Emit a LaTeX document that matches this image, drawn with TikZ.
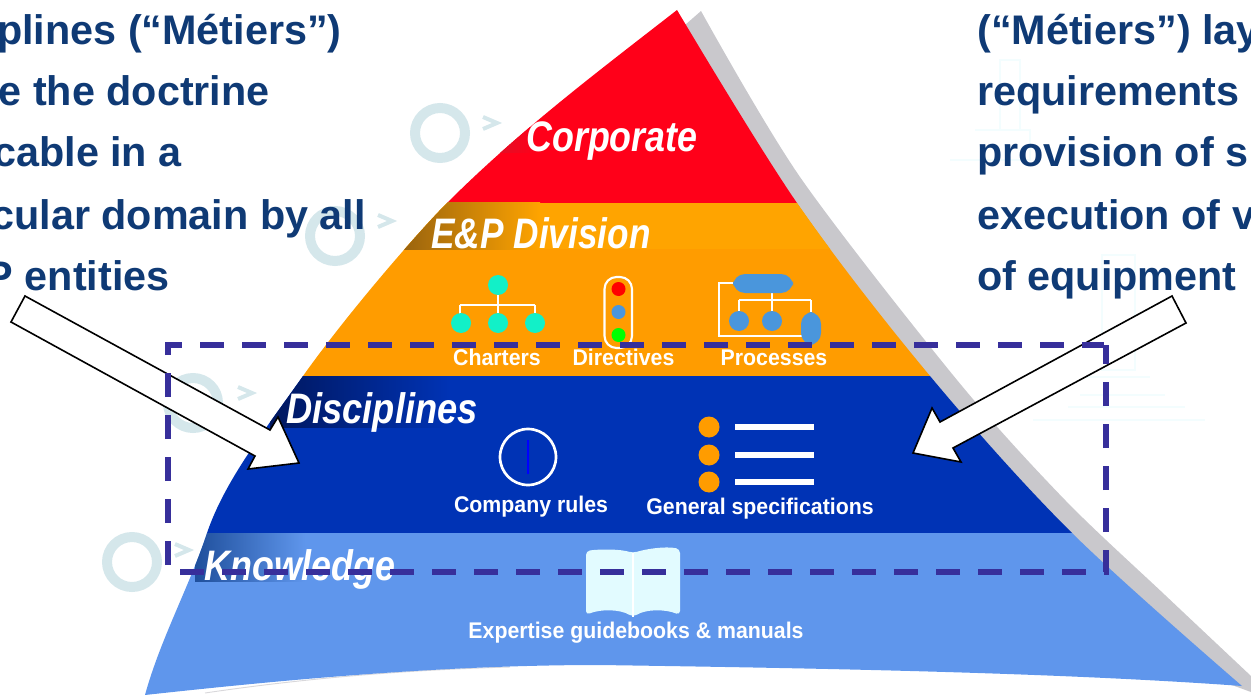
\documentclass[tikz,border=0pt]{standalone}
\usepackage{fontspec}
\setmainfont{Liberation Sans}
\usetikzlibrary{shadings}
\definecolor{txtblue}{HTML}{0F3A75}
\definecolor{cRed}{HTML}{FF0019}
\definecolor{cDarkRed}{HTML}{DC1228}
\definecolor{cOrange}{HTML}{FF9C00}
\definecolor{cOrangeB}{HTML}{FFA400}
\definecolor{cBrown}{HTML}{94600F}
\definecolor{cBlue}{HTML}{0033B5}
\definecolor{cNavy}{HTML}{00175E}
\definecolor{cLight}{HTML}{5F96EC}
\definecolor{cKnow}{HTML}{1F4F9C}
\definecolor{cGray}{HTML}{C9C8CC}
\definecolor{cRing}{HTML}{D5E7EB}
\definecolor{cFaint}{HTML}{F3FDFE}
\definecolor{cDash}{HTML}{372F9B}
\definecolor{cTurq}{HTML}{12F0C8}
\definecolor{cIcon}{HTML}{4A96DC}
\definecolor{cBook}{HTML}{E2FBFF}
\tikzset{
  side/.style={font=\bfseries\fontsize{31}{31}\selectfont,text=txtblue,inner sep=0pt},
  layer/.style={font=\bfseries\itshape\fontsize{32}{32}\selectfont,text=white,inner sep=0pt,anchor=base},
  caption/.style={font=\bfseries\fontsize{17}{17}\selectfont,text=white,inner sep=0pt,anchor=base,xscale=.94},
  ring/.style={draw=cRing,line width=7.5pt,fill=none},
  wm/.style={draw=cRing,line width=3pt},
  faint/.style={draw=cFaint,line width=1.2pt},
  wire/.style={draw=white,line width=1.5pt},
  blockarrow/.style={draw=black,fill=white,line width=1.2pt,line join=miter},
  frame/.style={draw=cDash,line width=3.8pt,dash pattern=on 18pt off 13.5pt},
  bar/.style={draw=white,line width=3.8pt}
}
\newcommand{\pyr}{(677,10) .. controls (600,70) and (520,130) .. (447,203)
  .. controls (420,230) and (350,310) .. (303,376)
  .. controls (265,430) and (225,480) .. (207,533)
  .. controls (190,585) and (160,640) .. (145,695)
  .. controls (300,678) and (450,665) .. (600,665)
  .. controls (800,668) and (1050,672) .. (1242,686)
  -- plot[smooth,tension=.55] coordinates {(1242,686) (1072,533) (930,376) (797,203) (677,10)} -- cycle}
\begin{document}
\begin{tikzpicture}[x=.75pt,y=-.75pt]
\useasboundingbox (0,0) rectangle (1251,695);
\begin{scope}
\clip (0,0) rectangle (1251,695);
% faint background drawing on the right
\draw[faint] (1033,420) -- (1205,420) (1068,407) -- (1185,407) (1080,395) -- (1165,395)
  (1080,377) -- (1150,377) (1102,255) rectangle (1135,370)
  (1000,60) -- (1020,60) -- (1020,130) -- (1000,130) -- cycle (975,130) -- (1030,130) -- (1030,160) -- (950,160);
% watermarks
\draw[ring] (440,133) circle (25);
\draw[wm] (483,117) -- (497,123) -- (483,129);
\draw[ring] (335,236) circle (25);
\draw[wm] (378,215) -- (392,221) -- (378,227);
\draw[ring] (193,403) circle (25);
\draw[wm] (238,387) -- (252,393) -- (238,399);
\draw[ring] (132,562) circle (25);
\draw[wm] (175,544) -- (189,550) -- (175,556);
% side texts
\node[side,anchor=base east] (t1) at (342,45) {plines (“Métiers”)};
\node[side,anchor=base east] (t2) at (270,106) {e the doctrine};
\node[side,anchor=base east] (t3) at (182,167) {cable in a};
\node[side,anchor=base east] (t4) at (366,229) {cular domain by all};
\node[side,anchor=base east] (t5) at (170,290) {P entities};
\node[side,anchor=base west] (r1) at (977,45) {(“Métiers”) lay};
\node[side,anchor=base west] (r2) at (977,106) {requirements};
\node[side,anchor=base west] (r3) at (977,167) {provision of s};
\node[side,anchor=base west] (r4) at (977,229) {execution of v};
\node[side,anchor=base west] (r5) at (977,290) {of equipment};
% shadow
\fill[cGray] plot[smooth,tension=.5] coordinates {(701,11) (800,177) (957,380) (1065,500) (1165,595) (1251,676)}
  -- (1251,692) -- (1240,688) -- (1000,600) -- (677,100) -- (685,25) -- cycle;
\draw[cGray!70,line width=.7pt] (205,693) .. controls (300,679) and (400,670) .. (510,667);
% bands
\begin{scope}
\clip \pyr;
\fill[cRed] (100,0) rectangle (1251,203);
\fill[cOrange] (100,203) rectangle (1251,376);
\fill[cOrangeB] (100,203) rectangle (1251,249);
\fill[cBlue] (100,376) rectangle (1251,533);
\fill[cLight] (100,533) rectangle (1251,700);
\shade[left color=cBrown,right color=cOrangeB] (395,203) rectangle (540,249);
\shade[left color=cNavy,right color=cBlue] (270,376) rectangle (450,427);
\shade[left color=cKnow,right color=cLight] (195,533) rectangle (305,581);
\shade[left color=cDarkRed,right color=cRed] (490,128) rectangle (535,153);
\end{scope}
% layer titles
\node[layer,xscale=.84] (corp) at (612,152) {Corporate};
\node[layer,xscale=.825] (div) at (541,248) {E\&P Division};
\node[layer,xscale=.85] (disc) at (382,423) {Disciplines};
\node[layer,xscale=.84] (know) at (300,580) {Knowledge};
% charters icon
\draw[wire] (498,285) -- (498,323) (460,305) -- (535,305) (460,305) -- (460,323) (535,305) -- (535,323);
\foreach \p in {(498,285),(461,323),(498,323),(535,323)} \fill[cTurq] \p circle (10);
\node[caption] (c1) at (497,365) {Charters};
% directives icon
\draw[white,line width=1.6pt,fill=cOrange,rounded corners=9pt] (604.5,277) rectangle (632,348);
\fill[red] (618.5,289) circle (7);
\fill[cIcon] (618.5,312) circle (7);
\fill[green] (618.5,335) circle (7);
\node[caption] (c2) at (623.5,365) {Directives};
% processes icon
\draw[wire] (733,283) -- (719,283) -- (719,336) -- (803,336)
  (772,293) -- (772,312) (739,300) -- (811,300) (739,300) -- (739,312) (811,300) -- (811,314);
\fill[cIcon,rounded corners=9pt] (733,274) rectangle (793,293);
\fill[cIcon] (739,321) circle (10);
\fill[cIcon] (772,321) circle (10);
\fill[cIcon,rounded corners=9pt] (801,312) rectangle (821,345);
\node[caption] (c3) at (774,365) {Processes};
% company rules
\draw[white,line width=2pt] (528,457) circle (28);
\draw[blue,line width=2pt] (528,440) -- (528,474);
\node[caption] (c4) at (531,512) {Company rules};
% specs
\foreach \y in {427,455,482} {
  \fill[cOrange] (709,\y) circle (10.5);
  \draw[bar] (735,\y) -- (814,\y);
}
\node[caption] (c5) at (760,514) {General specifications};
% book
\fill[cBook,rounded corners=3pt] (586,551) .. controls (600,549) and (620,549) .. (633,553)
  .. controls (646,549) and (665,546) .. (680,549)
  -- (680,615) .. controls (665,609) and (646,609) .. (633,617)
  .. controls (620,609) and (600,609) .. (586,615) -- cycle;
\draw[white,line width=.8pt] (633,553) -- (633,617);
\node[caption] (c6) at (636,638) {Expertise guidebooks \& manuals};
% arrows
\draw[blockarrow] (11,322) -- (255,456) -- (248,469) -- (299,463) -- (278,417) -- (270,430) -- (25,296) -- cycle;
\draw[blockarrow] (1186,323) -- (953,448) -- (961,462) -- (913,453) -- (932,408) -- (940,422) -- (1172,296) -- cycle;
% dashed frame
\draw[frame] (180,572) -- (1106,572) -- (1106,345);
\draw[frame] (168,565) -- (168,345) -- (1104,345);
\end{scope}
\end{tikzpicture}
\end{document}
